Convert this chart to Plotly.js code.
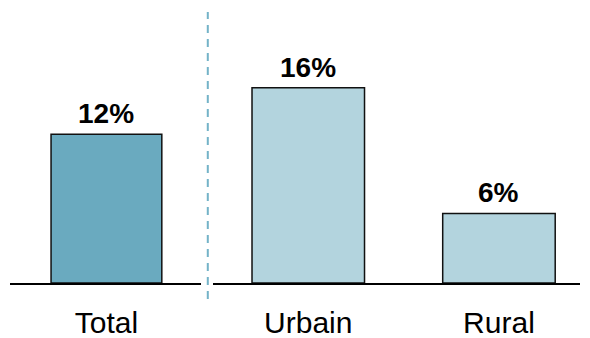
<!DOCTYPE html>
<html>
<head>
<meta charset="utf-8">
<script src="https://cdn.plot.ly/plotly-3.0.1.min.js"></script>
<style>html,body{margin:0;padding:0;background:#fff;}#chart{width:590px;height:338px;}</style>
</head>
<body>
<div id="chart"></div>
<script>
var categories = ['Total', 'Urbain', 'Rural'];
var values = [12.2, 16.0, 5.7];
var valueLabels = ['12%', '16%', '6%'];

var FONT = 'Liberation Sans, Arial, sans-serif';

var leftCats = categories.slice(0, 1), leftVals = values.slice(0, 1), leftLabels = valueLabels.slice(0, 1);
var rightCats = categories.slice(1), rightVals = values.slice(1), rightLabels = valueLabels.slice(1);

var traces = [
  {type: 'bar', x: leftCats, y: leftVals, xaxis: 'x', yaxis: 'y', width: 0.58,
   marker: {color: '#6AAABF', line: {color: '#111111', width: 1.5}}, hoverinfo: 'skip'},
  {type: 'bar', x: rightCats, y: rightVals, xaxis: 'x2', yaxis: 'y', width: 0.59,
   marker: {color: '#B3D4DE', line: {color: '#111111', width: 1.5}}, hoverinfo: 'skip'}
];

var annotations = [];
leftCats.forEach(function (c, i) {
  annotations.push({xref: 'x', yref: 'y', x: c, y: leftVals[i], text: leftLabels[i], showarrow: false,
    yanchor: 'bottom', yshift: 3, font: {family: FONT, size: 28, color: '#000'}});
});
rightCats.forEach(function (c, i) {
  annotations.push({xref: 'x2', yref: 'y', x: c, y: rightVals[i], text: rightLabels[i], showarrow: false,
    yanchor: 'bottom', yshift: 3, font: {family: FONT, size: 28, color: '#000'}});
});
annotations.forEach(function (a) { a.text = '<b>' + a.text + '</b>'; });

var axisCommon = {type: 'category', showline: true, linecolor: '#000', linewidth: 2, showgrid: false,
  zeroline: false, ticks: '', ticklabelstandoff: 12,
  tickfont: {family: FONT, size: 30, color: '#000'}, fixedrange: true};

var layout = {
  width: 590, height: 338,
  margin: {l: 10, r: 10, t: 10, b: 55},
  paper_bgcolor: '#fff', plot_bgcolor: '#fff',
  showlegend: false,
  xaxis: Object.assign({}, axisCommon, {domain: [0, 0.335], range: [-0.505, 0.495], anchor: 'y'}),
  xaxis2: Object.assign({}, axisCommon, {domain: [0.356, 1], range: [-0.5, 1.425], anchor: 'y'}),
  yaxis: {range: [0, 22.38], visible: false, showgrid: false, zeroline: false, fixedrange: true},
  annotations: annotations,
  shapes: [{type: 'line', xref: 'paper', yref: 'paper', x0: 0.347, x1: 0.347, y0: -0.0586, y1: 0.993,
    line: {color: '#74B3C8', width: 2, dash: '8px,6px'}}]
};

Plotly.newPlot('chart', traces, layout, {displayModeBar: false, staticPlot: true});
</script>
</body>
</html>
